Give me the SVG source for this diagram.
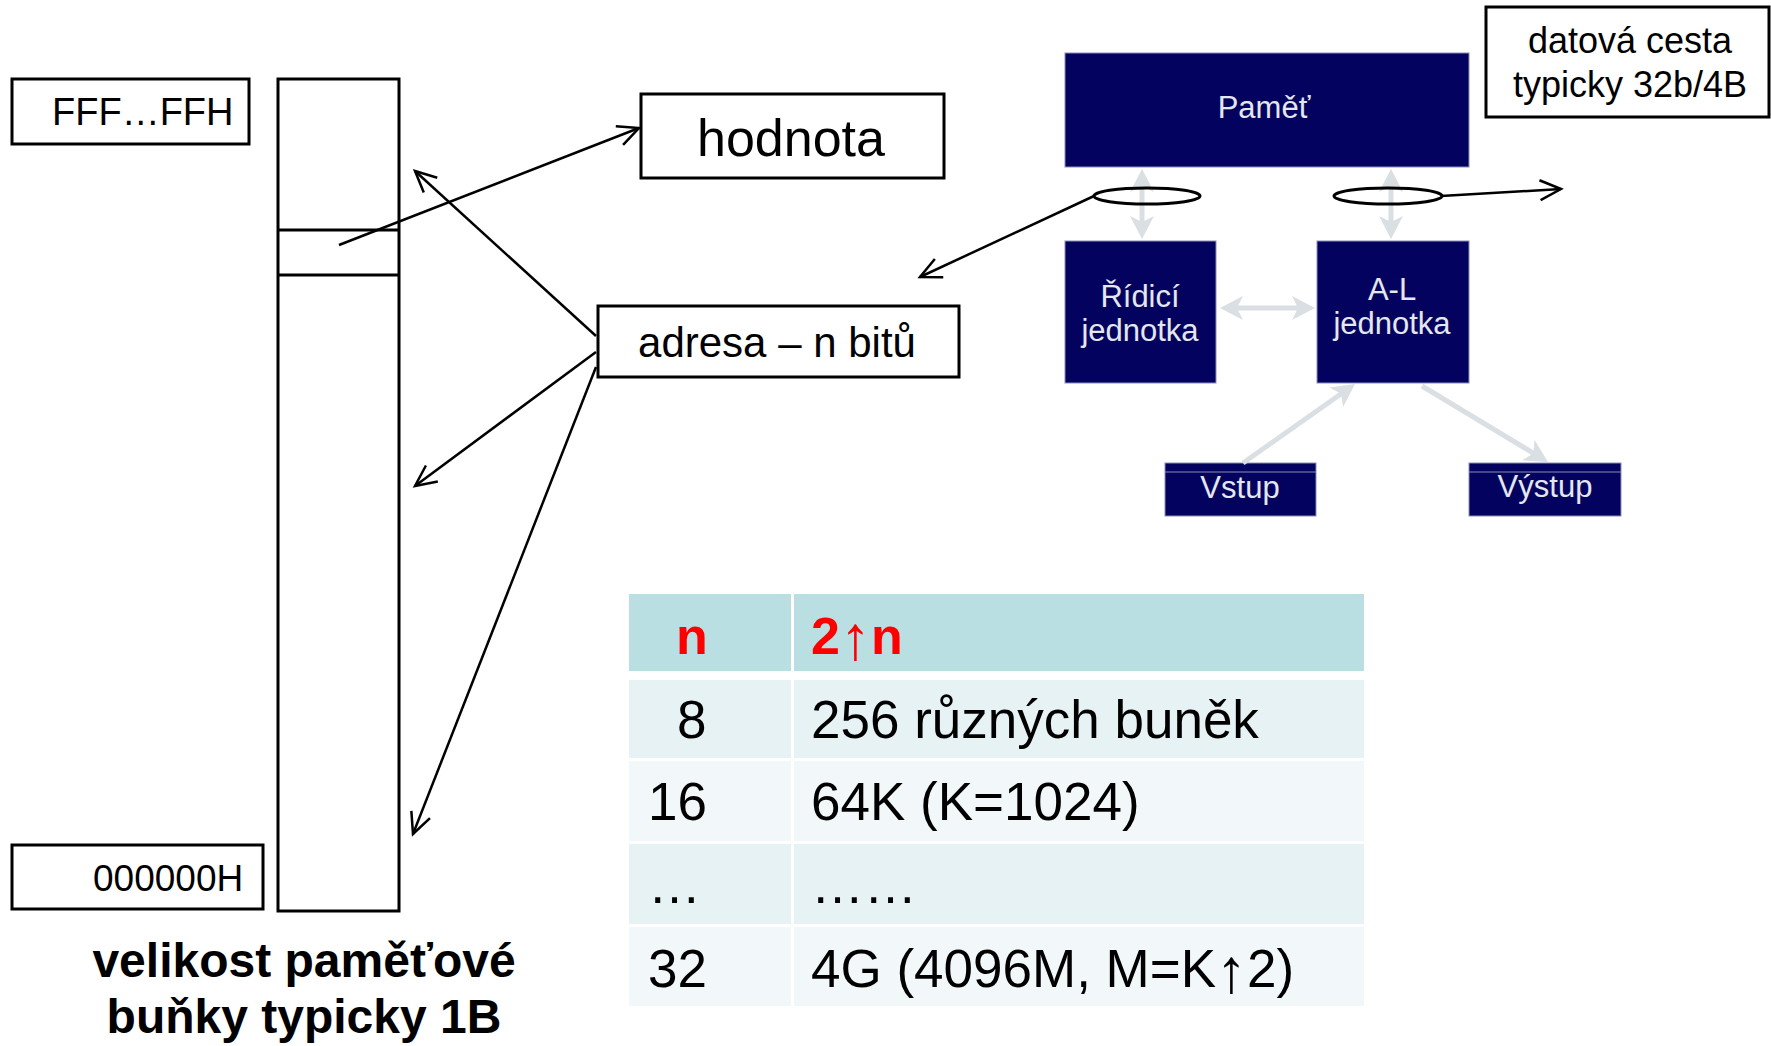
<svg xmlns="http://www.w3.org/2000/svg" width="1771" height="1046" viewBox="0 0 1771 1046">
<style>
.t{font-family:"Liberation Sans",Arial,sans-serif}
.box{fill:#fff;stroke:#000;stroke-width:3}
.navy{fill:#03035F;stroke:#8C8CB8;stroke-width:1}
.wt{fill:#E4E7EE;font-size:31px;text-anchor:middle}
.conn{fill:none;stroke:#000;stroke-width:2.5;marker-end:url(#open)}
.bus{fill:none;stroke:#DADFE3;stroke-width:5;marker-end:url(#gh)}
.bi{marker-start:url(#gh)}
.ell{fill:none;stroke:#000;stroke-width:3}
.cell{font-size:53px;fill:#000}
.hd{font-size:52px;font-weight:bold;fill:#FF0000}
.arr{font-weight:normal;font-size:62px}
</style>
<defs>
<marker id="open" markerUnits="userSpaceOnUse" viewBox="-26 -14 30 28" refX="0" refY="0" markerWidth="30" markerHeight="28" orient="auto">
<path d="M-21,-10 L0,0 L-21,10" fill="none" stroke="#000" stroke-width="2.5"/>
</marker>
<marker id="gh" markerUnits="userSpaceOnUse" viewBox="-16 -14 30 28" refX="0" refY="0" markerWidth="30" markerHeight="28" orient="auto-start-reverse">
<path d="M10,0 L-13,-12 L-7,0 L-13,12 Z" fill="#DADFE3"/>
</marker>
</defs>

<g id="memory-column">
<rect class="box" x="278" y="79" width="121" height="832"/>
<line x1="278" y1="230" x2="399" y2="230" stroke="#000" stroke-width="3"/>
<line x1="278" y1="275" x2="399" y2="275" stroke="#000" stroke-width="3"/>
</g>
<g id="addr-top">
<rect class="box" x="12" y="79" width="237" height="65"/>
<text class="t" x="52" y="125" font-size="38">FFF…FFH</text>
</g>
<g id="addr-bottom">
<rect class="box" x="12" y="845" width="251" height="64"/>
<text class="t" x="93" y="891" font-size="37">000000H</text>
</g>
<g id="caption">
<text class="t" x="304" y="977" font-size="48" font-weight="bold" text-anchor="middle">velikost paměťové</text>
<text class="t" x="304" y="1033" font-size="48" font-weight="bold" text-anchor="middle">buňky typicky 1B</text>
</g>
<g id="hodnota">
<rect class="box" x="641" y="94" width="303" height="84"/>
<text class="t" x="791" y="156" font-size="52" text-anchor="middle">hodnota</text>
</g>
<g id="adresa">
<rect class="box" x="598" y="306" width="361" height="71"/>
<text class="t" x="777" y="357" font-size="42" text-anchor="middle">adresa – n bitů</text>
</g>
<g id="datova-cesta">
<rect class="box" x="1486" y="7" width="283" height="110"/>
<text class="t" x="1630" y="53" font-size="36" text-anchor="middle">datová cesta</text>
<text class="t" x="1630" y="97" font-size="36" text-anchor="middle">typicky 32b/4B</text>
</g>

<g id="pamet">
<rect class="navy" x="1065" y="53" width="404" height="114"/>
<text class="t wt" x="1264" y="118">Paměť</text>
</g>
<g id="ridici">
<rect class="navy" x="1065" y="241" width="151" height="142"/>
<text class="t wt" x="1140" y="307">Řídicí</text>
<text class="t wt" x="1140" y="341">jednotka</text>
</g>
<g id="al">
<rect class="navy" x="1317" y="241" width="152" height="142"/>
<text class="t wt" x="1392" y="300">A-L</text>
<text class="t wt" x="1392" y="334">jednotka</text>
</g>
<g id="vstup">
<rect class="navy" x="1165" y="463" width="151" height="53"/>
<line x1="1165" y1="472" x2="1316" y2="472" stroke="#8C8CB8" stroke-width="1"/>
<text class="t wt" x="1240" y="498">Vstup</text>
</g>
<g id="vystup">
<rect class="navy" x="1469" y="463" width="152" height="53"/>
<line x1="1469" y1="472" x2="1621" y2="472" stroke="#8C8CB8" stroke-width="1"/>
<text class="t wt" x="1545" y="497">Výstup</text>
</g>

<g id="table">
<rect x="629" y="594" width="162" height="77" fill="#BADFE3"/>
<rect x="794" y="594" width="570" height="77" fill="#BADFE3"/>
<rect x="629" y="680" width="162" height="78" fill="#E7F2F4"/>
<rect x="794" y="680" width="570" height="78" fill="#E7F2F4"/>
<rect x="629" y="761" width="162" height="80" fill="#F2F8FA"/>
<rect x="794" y="761" width="570" height="80" fill="#F2F8FA"/>
<rect x="629" y="844" width="162" height="80" fill="#E7F2F4"/>
<rect x="794" y="844" width="570" height="80" fill="#E7F2F4"/>
<rect x="629" y="927" width="162" height="79" fill="#F2F8FA"/>
<rect x="794" y="927" width="570" height="79" fill="#F2F8FA"/>
<text class="t hd" x="692" y="654" text-anchor="middle">n</text>
<text class="t hd" x="811" y="654">2<tspan class="arr" dy="5">↑</tspan><tspan dy="-5">n</tspan></text>
<text class="t cell" x="677" y="738">8</text>
<text class="t cell" x="811" y="738">256 různých buněk</text>
<text class="t cell" x="648" y="820">16</text>
<text class="t cell" x="811" y="820">64K (K=1024)</text>
<text class="t cell" x="648" y="903">…</text>
<text class="t cell" x="811" y="903">……</text>
<text class="t cell" x="648" y="987">32</text>
<text class="t cell" x="811" y="987">4G (4096M, M=K<tspan font-size="62px" dy="5">↑</tspan><tspan dy="-5">2)</tspan></text>
</g>

<g id="connectors">
<line class="bus bi" x1="1142" y1="179" x2="1142" y2="229"/>
<line class="bus bi" x1="1391" y1="179" x2="1391" y2="229"/>
<line class="bus bi" x1="1230" y1="308" x2="1305" y2="308"/>
<line class="bus" x1="1243" y1="463" x2="1346.8" y2="389.8"/>
<line class="bus" x1="1422" y1="386" x2="1539.4" y2="456.8"/>
<ellipse class="ell" cx="1147" cy="196" rx="53" ry="8"/>
<ellipse class="ell" cx="1388" cy="196" rx="54" ry="8"/>
<line class="conn" x1="339" y1="245" x2="639" y2="128"/>
<line class="conn" x1="596" y1="336" x2="415" y2="171"/>
<line class="conn" x1="596" y1="352" x2="415" y2="486"/>
<line class="conn" x1="596" y1="367" x2="413" y2="834"/>
<line class="conn" x1="1094" y1="196" x2="920" y2="277"/>
<line class="conn" x1="1441" y1="196" x2="1561" y2="189"/>
</g>
</svg>
